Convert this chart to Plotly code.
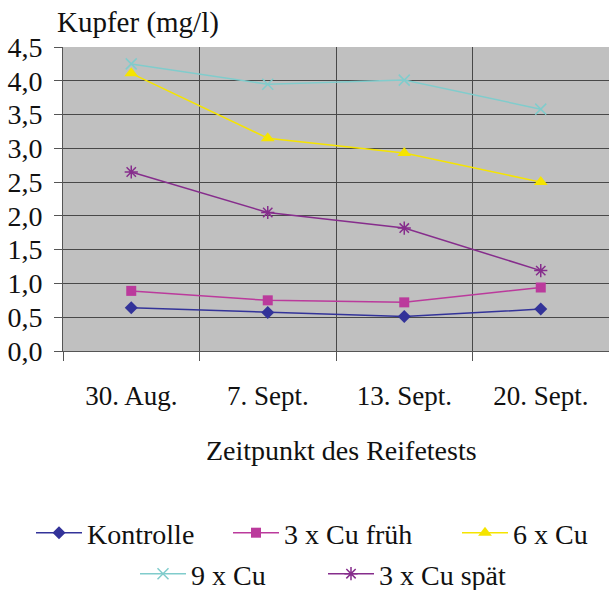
import plotly.graph_objects as go

categories = ["30. Aug.", "7. Sept.", "13. Sept.", "20. Sept."]
kontrolle = [0.64, 0.57, 0.51, 0.62]
cu3_frueh = [0.89, 0.75, 0.72, 0.94]
cu6 = [4.11, 3.15, 2.93, 2.50]
cu9 = [4.25, 3.95, 4.01, 3.58]
cu3_spaet = [2.65, 2.05, 1.82, 1.19]
series_names = ["Kontrolle", "3 x Cu früh", "6 x Cu", "9 x Cu", "3 x Cu spät"]
y_ticks = [0, 0.5, 1, 1.5, 2, 2.5, 3, 3.5, 4, 4.5]
y_tick_labels = ["0,0", "0,5", "1,0", "1,5", "2,0", "2,5", "3,0", "3,5", "4,0", "4,5"]

FONT = "Times New Roman, Liberation Serif, Tinos, DejaVu Serif, serif"
OFF = 0  # page body margin removed via post_script
SCREEN_L, SCREEN_R, SCREEN_T, SCREEN_B = 63, 609, 47, 351
ML = SCREEN_L - OFF
MT = SCREEN_T - OFF
PW = SCREEN_R - SCREEN_L
PH = SCREEN_B - SCREEN_T
W = ML + PW
H = 590 - OFF
MB = H - MT - PH
MR = 0

def px_x(x):
    return (x - OFF - ML) / PW

def px_y(y):
    return (H - MB - (y - OFF)) / PH

styles = [
    dict(color="#333399", symbol="diamond", size=10, lw=1.5, mlw=0),
    dict(color="#BB3A9C", symbol="square", size=10, lw=1.5, mlw=0),
    dict(color="#F5E400", symbol="triangle-up", size=12, lw=1.5, mlw=0),
    dict(color="#80CCCC", symbol="x-thin-open", size=11, lw=1.5, mlw=1.5),
    dict(color="#862D8C", symbol="asterisk-open", size=11, lw=1.5, mlw=1.5),
]
data = [kontrolle, cu3_frueh, cu6, cu9, cu3_spaet]
legend_ids = ["legend", "legend2", "legend3", "legend4", "legend5"]
# legend entry positions (left px on screen, center y px on screen)
legend_pos = [(31, 533), (228, 533), (457, 533), (135, 574), (323, 574)]

fig = go.Figure()
for name, vals, st, lid in zip(series_names, data, styles, legend_ids):
    fig.add_trace(go.Scatter(
        x=categories, y=vals, name=name, mode="lines+markers",
        line=dict(color=st["color"], width=st["lw"]),
        marker=dict(symbol=st["symbol"], size=st["size"], color=st["color"],
                    line=dict(color=st["color"], width=st["mlw"])),
        legend=lid,
    ))

layout_legends = {}
for lid, (lx, ly) in zip(legend_ids, legend_pos):
    layout_legends[lid] = dict(
        x=px_x(lx), y=px_y(ly), xanchor="left", yanchor="middle",
        orientation="h", bgcolor="rgba(0,0,0,0)", borderwidth=0,
        font=dict(family=FONT, size=28, color="#111111"),
        itemwidth=46,
    )

fig.update_layout(
    width=W, height=H,
    margin=dict(l=ML, r=MR, t=MT, b=MB, autoexpand=False),
    paper_bgcolor="white", plot_bgcolor="#C0C0C0",
    font=dict(family=FONT, size=28, color="#111111"),
    showlegend=True,
    **layout_legends,
    xaxis=dict(
        type="category", tickson="boundaries", ticks="outside", ticklen=9,
        tickcolor="#555555", tickwidth=1,
        showgrid=True, gridcolor="#484848", gridwidth=1,
        showline=True, linecolor="#555555", linewidth=1,
        tickfont=dict(family=FONT, size=27, color="#111111"),
        ticklabelstandoff=21, automargin=False,
        range=[-0.5, 3.5],
    ),
    yaxis=dict(
        range=[0, 4.5], tickvals=y_ticks, ticktext=y_tick_labels,
        ticks="outside", ticklen=8, tickcolor="#555555", tickwidth=1,
        showgrid=True, gridcolor="#484848", gridwidth=1,
        showline=True, linecolor="#555555", linewidth=1,
        tickfont=dict(family=FONT, size=28, color="#111111"),
        ticklabelstandoff=6, automargin=False, zeroline=False,
    ),
    annotations=[
        dict(text="Kupfer (mg/l)", xref="paper", yref="paper",
             x=px_x(55), y=px_y(23), xanchor="left", yanchor="middle",
             showarrow=False, font=dict(family=FONT, size=29, color="#111111")),
        dict(text="Zeitpunkt des Reifetests", xref="paper", yref="paper",
             x=px_x(341), y=px_y(450), xanchor="center", yanchor="middle",
             showarrow=False, font=dict(family=FONT, size=28, color="#111111")),
    ],
)

fig.write_html(
    "out.html",
    config={"displayModeBar": False},
    post_script="document.body.style.margin='0';document.body.style.padding='0';",
)
